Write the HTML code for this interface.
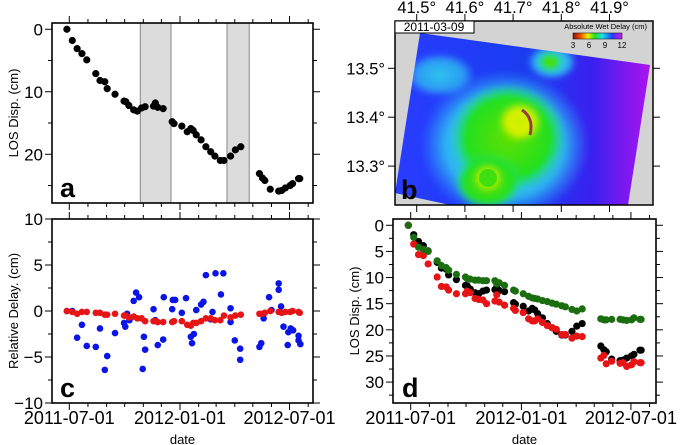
<!DOCTYPE html>
<html><head><meta charset="utf-8">
<style>
html,body{margin:0;padding:0;background:#fff;}
svg{display:block;font-family:"Liberation Sans",Arial,sans-serif;}
</style></head>
<body>
<svg id="fig" width="685" height="445" viewBox="0 0 685 445" xmlns="http://www.w3.org/2000/svg">
<defs>
  <linearGradient id="bgGrad" x1="0" y1="0" x2="1" y2="0">
    <stop offset="0" stop-color="#2a3cff"/>
    <stop offset="0.5" stop-color="#1a3cf0"/>
    <stop offset="0.75" stop-color="#3a20f0"/>
    <stop offset="1" stop-color="#c010f0"/>
  </linearGradient>
  <radialGradient id="halo"><stop offset="0" stop-color="#30e8e8"/><stop offset="0.7" stop-color="#30d0f0" stop-opacity="0.8"/><stop offset="1" stop-color="#30a0ff" stop-opacity="0"/></radialGradient>
  <radialGradient id="greenB"><stop offset="0" stop-color="#60e000"/><stop offset="0.75" stop-color="#20e020"/><stop offset="1" stop-color="#20e0a0" stop-opacity="0"/></radialGradient>
  <radialGradient id="yellowB"><stop offset="0" stop-color="#c0f000"/><stop offset="0.6" stop-color="#e0f000"/><stop offset="1" stop-color="#a0f000" stop-opacity="0"/></radialGradient>
  <linearGradient id="cbar" x1="0" y1="0" x2="1" y2="0">
    <stop offset="0" stop-color="#901010"/><stop offset="0.15" stop-color="#f05000"/><stop offset="0.3" stop-color="#f0f000"/>
    <stop offset="0.45" stop-color="#20e020"/><stop offset="0.6" stop-color="#20e0f0"/><stop offset="0.8" stop-color="#2040ff"/><stop offset="1" stop-color="#e010f0"/>
  </linearGradient>
  <clipPath id="imgClip"><polygon points="420,33 650,65 628,205 450,205 395,193"/></clipPath>
  <filter id="blur" x="-30%" y="-30%" width="160%" height="160%"><feGaussianBlur stdDeviation="3"/></filter>
</defs>

<g>
  <rect x="395" y="21" width="258" height="184" fill="#d3d3d3"/>
  <g clip-path="url(#imgClip)">
    <rect x="390" y="20" width="270" height="190" fill="url(#bgGrad)"/>
    <g filter="url(#blur)">
      <ellipse cx="505" cy="145" rx="85" ry="75" fill="url(#halo)"/>
      <ellipse cx="440" cy="75" rx="35" ry="22" fill="url(#halo)" opacity="0.8"/>
      <ellipse cx="552" cy="62" rx="25" ry="18" fill="url(#halo)"/>
      <ellipse cx="508" cy="138" rx="58" ry="55" fill="url(#greenB)"/>
      <ellipse cx="488" cy="182" rx="34" ry="28" fill="url(#greenB)"/>
      <ellipse cx="550" cy="62" rx="12" ry="10" fill="url(#greenB)"/>
      <ellipse cx="520" cy="122" rx="22" ry="20" fill="url(#yellowB)"/>
      <ellipse cx="488" cy="178" rx="15" ry="14" fill="url(#yellowB)" opacity="0.7"/>
    </g>
    <ellipse cx="488" cy="178" rx="9" ry="9" fill="#40e010"/>
    <path d="M522,110 Q534,118 530,135" stroke="#904040" stroke-width="3" fill="none"/>
  </g>
  <rect x="395" y="21" width="258" height="184" fill="none" stroke="#000" stroke-width="1.5"/>
  <rect x="395" y="21" width="79" height="12" fill="#fff" stroke="#000" stroke-width="1"/>
  <text x="434" y="31" font-size="12" text-anchor="middle">2011-03-09</text>
  <text x="647" y="29" font-size="7.5" text-anchor="end">Absolute Wet Delay (cm)</text>
  <rect x="573" y="33" width="49" height="6" fill="url(#cbar)" stroke="#000" stroke-width="0.5"/>
  <g font-size="8" text-anchor="middle">
    <text x="573" y="48">3</text><text x="589" y="48">6</text><text x="605" y="48">9</text><text x="622" y="48">12</text>
  </g>
  <text x="401" y="199" font-size="27" font-weight="bold">b</text>
  <g id="bTicks"></g>
</g>

<g id="panelA"></g>
<g id="panelC"></g>
<g id="panelD"></g>
</svg>

<script>
// ---- data (days since 2011-07-01) ----
const days = [-4,5,13,21,29,44,51,59,63,76,91,94,99,107,113,120,126,140,143,147,156,171,174,187,196,202,206,211,219,227,235,242,251,257,268,276,285,316,321,325,334,348,353,359,367,371,381,383];
const losBlack = [0,1.8,3.1,3.9,4.9,7.1,8.2,8.4,9.5,10.4,11.5,11.6,12.2,12.9,13.1,12.6,12.4,12.3,11.8,12.5,12.7,14.8,15.1,15.5,16.4,15.9,16.2,16.9,17.7,18.8,19.6,20.3,21,21,20.3,19.3,18.8,23.1,23.8,24.2,25.6,25.9,25.8,25.4,25,24.7,23.9,23.9];
const losGreen = [0,2.3,4.2,4.6,5,6.8,7.7,8.1,8.6,9.4,9.9,10.2,10.3,10.5,10.5,10.6,10.6,10.6,11.2,11,11.5,12.4,12.6,13.1,13.6,13.9,14,14.1,14.4,14.6,14.9,15.1,15.4,15.6,16.1,16.4,16,17.9,18.1,18.1,18,18,18.1,18.2,18.1,17.7,18,18];
const losRed = [0,3.6,5.6,5.8,7.4,9.9,11.7,11.8,12.4,13.1,13.1,12.6,12.9,14,14.2,14.3,15,14.5,13.3,14.7,15.3,15.9,16.3,16.7,17.9,18.3,18.3,17.9,18.6,19.2,19.6,19.9,20.9,20.9,21.6,21.2,21.3,25.4,24.9,26.5,26,26.4,26.3,27,26.7,26.1,26.3,26.3];
const delayRed = [0,-0.1,-0.3,-0.1,-0.1,-0.2,-0.2,-0.4,-0.4,-0.3,-0.5,-0.5,-0.7,-0.6,-0.8,-0.8,-1.1,-1.1,-1.1,-1.2,-1.2,-1.2,-1.1,-1.1,-1.5,-1.6,-1.3,-1.3,-1.1,-0.8,-0.8,-1,-1,-0.5,-0.7,-0.5,-0.4,-0.3,-0.3,-0.2,0,-0.1,-0.2,-0.1,-0.1,0,-0.1,-0.2];
const blueDays = [-4,5,13,21,29,44,51,59,63,76,91,93,96,100,107,111,116,122,124,126,140,143,147,156,157,171,172,176,187,194,202,204,207,211,219,223,227,235,238,243,252,256,268,268,275,284,284,316,319,323,332,336,348,348,352,356,363,364,368,372,381,381,384];
const delayBlue = [0,0,-2.9,-1.5,-3.8,-3.9,-1.9,-6.4,-4.9,-2.4,-1.3,-1.7,-0.3,-1,1.1,2,1.5,-6.3,-2.8,-4.2,0.2,-1,-3.7,-3.1,1.5,0.2,1.2,1.2,-0.2,1.4,-2.8,-3.5,-2.5,0.1,0.7,1,3.9,-0.9,-0.1,4.1,1.8,4.1,0.3,-1.2,-3.2,-4.1,-5.3,-3.9,-3.5,-0.8,1.5,0.1,3,2.3,0.5,-1.7,-3.7,-2.3,-1.9,-2.1,-2.7,-3.2,-3.6];
const bandStart = [118,262];
const bandEnd = [169,299];
const dateTicks = [0,184,366];
const dateTickLabels = ['2011-07-01','2012-01-01','2012-07-01'];
const monthTicks = [-30,0,31,62,92,123,153,184,215,244,275,305,336,366,397];
const lonTicks = [41.5,41.6,41.7,41.8,41.9];
const latTicks = [13.5,13.4,13.3];

const NS='http://www.w3.org/2000/svg';
function mk(parent, tag, attrs){const e=document.createElementNS(NS,tag);for(const k in attrs)e.setAttribute(k,attrs[k]);parent.appendChild(e);return e;}

function panel(g, box, dom, yTicksMajor, yTicksMinor, yLabelFmt, xLabels, yTitle){
  const {x0,x1,y0,y1,d0,ppd}=box;
  const X=d=>d0+d*ppd;
  const Y=v=>y0+(v-dom[0])/(dom[1]-dom[0])*(y1-y0);
  monthTicks.forEach(m=>{const x=X(m); if(x<x0||x>x1)return;
    const len=dateTicks.includes(m)?7:4;
    const t1=mk(g,'line',{x1:x,x2:x,y1:y0,y2:y0-len,stroke:'#000','stroke-width':1});
    
    
    const t2=mk(g,'line',{x1:x,x2:x,y1:y1,y2:y1+len,stroke:'#000','stroke-width':1});
    
    
  });
  yTicksMajor.concat(yTicksMinor).forEach(v=>{const y=Y(v);const len=yTicksMajor.includes(v)?7:4;
    const a=mk(g,'line',{x1:x0,x2:x0-len,y1:y,y2:y,stroke:'#000','stroke-width':1});
    
    
    const b=mk(g,'line',{x1:x1,x2:x1+len,y1:y,y2:y,stroke:'#000','stroke-width':1});
    
    
  });
  yTicksMajor.forEach(v=>{const t=mk(g,'text',{x:x0-9,y:Y(v)+6,'font-size':17,'text-anchor':'end'});t.textContent=yLabelFmt(v);
    
    });
  if(xLabels){dateTicks.forEach((d,i)=>{const t=mk(g,'text',{x:X(d),y:y1+21,'font-size':18,'text-anchor':'middle'});t.textContent=dateTickLabels[i];
    
    });
    const dt=mk(g,'text',{x:(x0+x1)/2,y:y1+41,'font-size':13,'text-anchor':'middle'});dt.textContent='date';
    
    }
  const yt=mk(g,'text',{x:0,y:0,'font-size':13,'text-anchor':'middle',transform:`translate(${x0-34},${(y0+y1)/2}) rotate(-90)`});yt.textContent=yTitle;
  
  
  return {X,Y};
}
function frame(g,box){const f=mk(g,'rect',{x:box.x0,y:box.y0,width:box.x1-box.x0,height:box.y1-box.y0,fill:'none',stroke:'#000','stroke-width':1.6});
  
  }
function dots(g,X,Y,xs,vs,color,r,name){xs.forEach((d,i)=>{const c=mk(g,'circle',{cx:X(d),cy:Y(vs[i]),r:r,fill:color});
  
  });}
function label(g,x,y,s){const t=mk(g,'text',{x:x,y:y,'font-size':27,'font-weight':'bold'});t.textContent=s;
  
  }

const gA=document.getElementById('panelA');
const boxA={x0:52,x1:313,y0:23,y1:203,d0:69.3,ppd:0.6017};
const sA=panel(gA,boxA,[-1,27.8],[0,10,20],[5,15,25],v=>v,false,'LOS Disp. (cm)');
bandStart.forEach((s,i)=>{const r=mk(gA,'rect',{x:sA.X(s),y:boxA.y0,width:sA.X(bandEnd[i])-sA.X(s),height:boxA.y1-boxA.y0,fill:'#dcdcdc',stroke:'#888','stroke-width':1});
  
  });
dots(gA,sA.X,sA.Y,days,losBlack,'#000',3.6,'los-point');
frame(gA,boxA); label(gA,60,197,'a');

const gC=document.getElementById('panelC');
const boxC={x0:52,x1:313,y0:219,y1:403,d0:69.3,ppd:0.6017};
const sC=panel(gC,boxC,[10,-10],[10,5,0,-5,-10],[7.5,2.5,-2.5,-7.5],v=>v<0?'\u2212'+(-v):String(v),true,'Relative Delay. (cm)');
dots(gC,sC.X,sC.Y,blueDays,delayBlue,'#0a14e6',3.3,'blue-delay-point');
dots(gC,sC.X,sC.Y,days,delayRed,'#e61414',3.3,'red-delay-point');
frame(gC,boxC); label(gC,60,397,'c');

const gD=document.getElementById('panelD');
const boxD={x0:393,x1:656,y0:219,y1:403,d0:410.7,ppd:0.6017};
const sD=panel(gD,boxD,[-1.2,34],[0,5,10,15,20,25,30],[2.5,7.5,12.5,17.5,22.5,27.5,32.5],v=>v,true,'LOS Disp. (cm)');
dots(gD,sD.X,sD.Y,days,losBlack,'#000',3.6,'black-los-point');
dots(gD,sD.X,sD.Y,days,losRed,'#e61414',3.6,'red-los-point');
dots(gD,sD.X,sD.Y,days,losGreen,'#1a6e10',3.6,'green-los-point');
frame(gD,boxD); label(gD,402,397,'d');

const gB=document.getElementById('bTicks');
const lonX=l=>416.7+(l-41.5)*482;
const latY=l=>68.3+(13.5-l)*489;
lonTicks.forEach(l=>{const x=lonX(l);
  const a=mk(gB,'line',{x1:x,x2:x,y1:21,y2:14,stroke:'#000'});
  
  
  const b=mk(gB,'line',{x1:x,x2:x,y1:205,y2:212,stroke:'#000'});
  
  
  const t=mk(gB,'text',{x:x,y:13,'font-size':16.5,'text-anchor':'middle'});t.textContent=l.toFixed(1)+'\u00b0';
  
  });
latTicks.forEach(l=>{const y=latY(l);
  const a=mk(gB,'line',{x1:395,x2:388,y1:y,y2:y,stroke:'#000'});
  
  
  const b=mk(gB,'line',{x1:653,x2:660,y1:y,y2:y,stroke:'#000'});
  
  
  const t=mk(gB,'text',{x:385,y:y+6,'font-size':16.5,'text-anchor':'end'});t.textContent=l.toFixed(1)+'\u00b0';
  
  });
</script>
</body></html>
